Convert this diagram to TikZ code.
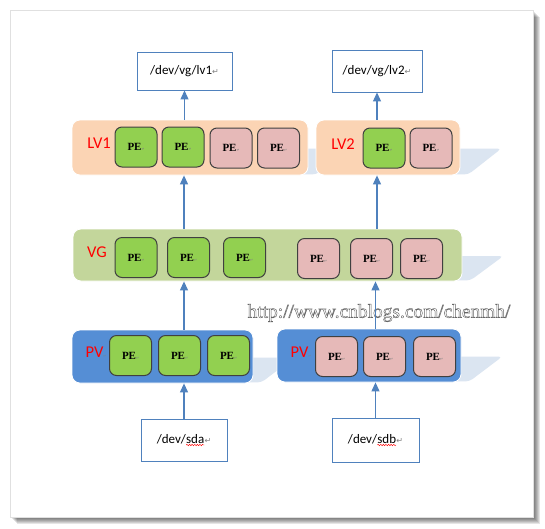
\documentclass[tikz,border=0pt]{standalone}
\usepackage{fontspec}
\setmainfont{Carlito}
\newfontfamily\serifb{Liberation Serif}
\newfontfamily\dejavu{DejaVu Sans}
\usetikzlibrary{arrows.meta,calc,decorations.pathmorphing}
\newcommand\redwave[1]{\tikz[baseline=(w.base)]{\node[inner sep=0pt, outer sep=0pt, minimum width=0pt, minimum height=0pt, draw=none, fill=none](w){#1}; \draw[red, line width=0.45pt, decorate, decoration={snake, amplitude=0.7pt, segment length=2.6pt}] ([yshift=-1.8pt]w.south west) -- ([yshift=-1.8pt]w.south east);}}
\definecolor{lvband}{HTML}{FBD4B4}
\definecolor{vgband}{HTML}{C3D69B}
\definecolor{pvband}{HTML}{558ED5}
\definecolor{pegreen}{HTML}{92D050}
\definecolor{pepink}{HTML}{E6B9B8}
\definecolor{arrowblue}{HTML}{4F81BD}
\definecolor{shadecol}{HTML}{DBE5F1}
\newcommand\parmark{{\dejavu\fontsize{8}{8}\selectfont\textcolor{gray}{↵}}}
\newcommand\pemark{{\dejavu\fontsize{3.5}{4}\selectfont\textcolor{gray}{↵}}}
\newcommand\bandshadow[1]{\fill[shadecol, rounded corners=4pt] ($(#1.west)+(10,1)$) -- ($(#1.east)+(41,1)$) -- ($(#1.south east)+(8,-1)$) -- ($(#1.south west)+(10,-1)$) -- cycle;}
\tikzset{
  band/.style={rounded corners=8pt, draw=white, line width=0.8pt, inner sep=0pt},
  pebox/.style={draw=black!75, line width=1pt, rounded corners=7pt, minimum width=42pt, minimum height=40pt, inner sep=0pt, font=\serifb\bfseries\fontsize{11}{12}\selectfont},
  pegr/.style={pebox, fill=pegreen},
  pepk/.style={pebox, fill=pepink},
  devbox/.style={draw=arrowblue, line width=0.9pt, fill=white, inner sep=0pt, font=\fontsize{13}{15}\selectfont},
  lbl/.style={text=red, font=\fontsize{16.5}{18}\selectfont, inner sep=0pt},
  arr/.style={draw=arrowblue, line width=1.1pt, -{Triangle[width=8pt,length=9pt]}},
  wm/.style={font=\serifb\fontsize{19.4}{22}\selectfont, inner sep=0pt}
}
\begin{document}
\begin{tikzpicture}[x=1pt,y=-1pt]
\useasboundingbox (0,0) rectangle (545,528);
% page with shadow
\foreach \i in {1,...,7} \fill[black, opacity=0.1] (10+\i,10+\i) rectangle (533+\i,517+\i);
\fill[white, draw=black!12, line width=0.6pt] (10,10) rectangle (533,517);

% bands (shadows first)
\node[band, minimum width=236pt, minimum height=55pt] (lv1) at (190,147.5) {};
\node[band, minimum width=144pt, minimum height=55pt] (lv2) at (388,147.5) {};
\node[band, minimum width=389pt, minimum height=52pt] (vg) at (267.5,255) {};
\node[band, minimum width=181pt, minimum height=53pt] (pvl) at (162.5,356.5) {};
\node[band, minimum width=184pt, minimum height=53pt] (pvr) at (369,355.5) {};
\bandshadow{lv1}
\bandshadow{lv2}
\bandshadow{vg}
\bandshadow{pvl}
\bandshadow{pvr}
\node[band, fill=lvband, minimum width=236pt, minimum height=55pt] at (lv1) {};
\node[band, fill=lvband, minimum width=144pt, minimum height=55pt] at (lv2) {};
\node[band, fill=vgband, minimum width=389pt, minimum height=52pt] at (vg) {};
\node[band, fill=pvband, minimum width=181pt, minimum height=53pt] at (pvl) {};
\node[band, fill=pvband, minimum width=184pt, minimum height=53pt] at (pvr) {};

% labels
\node[lbl] (tlv1) at (99,143) {LV1};
\node[lbl] (tlv2) at (343,144) {LV2};
\node[lbl] (tvg) at (97,252) {VG};
\node[lbl] (tpvl) at (96,352) {PV\pemark};
\node[lbl] (tpvr) at (301,352) {PV\pemark};

% PEs
\node[pegr] (l11) at (136,147) {PE\pemark};
\node[pegr] (l12) at (183,147) {PE\pemark};
\node[pepk] (l13) at (231,148) {PE\pemark};
\node[pepk] (l14) at (278.5,148) {PE\pemark};
\node[pegr] (l21) at (384,148) {PE\pemark};
\node[pepk] (l22) at (431,148) {PE\pemark};
\node[pegr] (g1) at (136,257.5) {PE\pemark};
\node[pegr] (g2) at (188.5,257.5) {PE\pemark};
\node[pegr] (g3) at (244.5,257.5) {PE\pemark};
\node[pepk] (g4) at (318.5,258.5) {PE\pemark};
\node[pepk] (g5) at (371.5,258.5) {PE\pemark};
\node[pepk] (g6) at (421.5,258.5) {PE\pemark};
\node[pegr] (p1) at (130.5,355.5) {PE\pemark};
\node[pegr] (p2) at (179.5,355.5) {PE\pemark};
\node[pegr] (p3) at (228.5,355.5) {PE\pemark};
\node[pepk] (p4) at (336.5,356.5) {PE\pemark};
\node[pepk] (p5) at (384.5,356.5) {PE\pemark};
\node[pepk] (p6) at (434.5,356.5) {PE\pemark};

% device boxes
\node[devbox, minimum width=95pt, minimum height=38pt] (lv1box) at (184.5,71) {/dev/vg/lv1\parmark};
\node[devbox, minimum width=90pt, minimum height=42pt] (lv2box) at (377,71) {/dev/vg/lv2\parmark};
\node[devbox, minimum width=86pt, minimum height=42pt] (sda) at (184,440) {/dev/\redwave{sda}\parmark};
\node[devbox, minimum width=87pt, minimum height=44pt] (sdb) at (375.5,440) {/dev/\redwave{sdb}\parmark};

% watermark: white text with grey outline
\node[wm, text=white] (wmark) at (379,313) {\special{pdf:literal direct 2 Tr 0.45 w 0.4 0.4 0.4 RG}http://www.cnblogs.com/chenmh/\special{pdf:literal direct 0 Tr}};

% arrows
\draw[arr] (sda.north) -- (sda.north |- pvl.south);
\draw[arr] (sdb.north) -- (sdb.north |- pvr.south);
\draw[arr] (sda.north |- pvl.north) -- (sda.north |- vg.south);
\draw[arr] (sdb.north |- pvr.north) -- (sdb.north |- vg.south);
\draw[arr] (sda.north |- vg.north) -- (sda.north |- lv1.south);
\draw[arr] (lv2box.south |- vg.north) -- (lv2box.south |- lv2.south);
\draw[arr] (lv1box.south |- lv1.north) -- (lv1box.south);
\draw[arr] (lv2box.south |- lv2.north) -- (lv2box.south);
\end{tikzpicture}
\end{document}
